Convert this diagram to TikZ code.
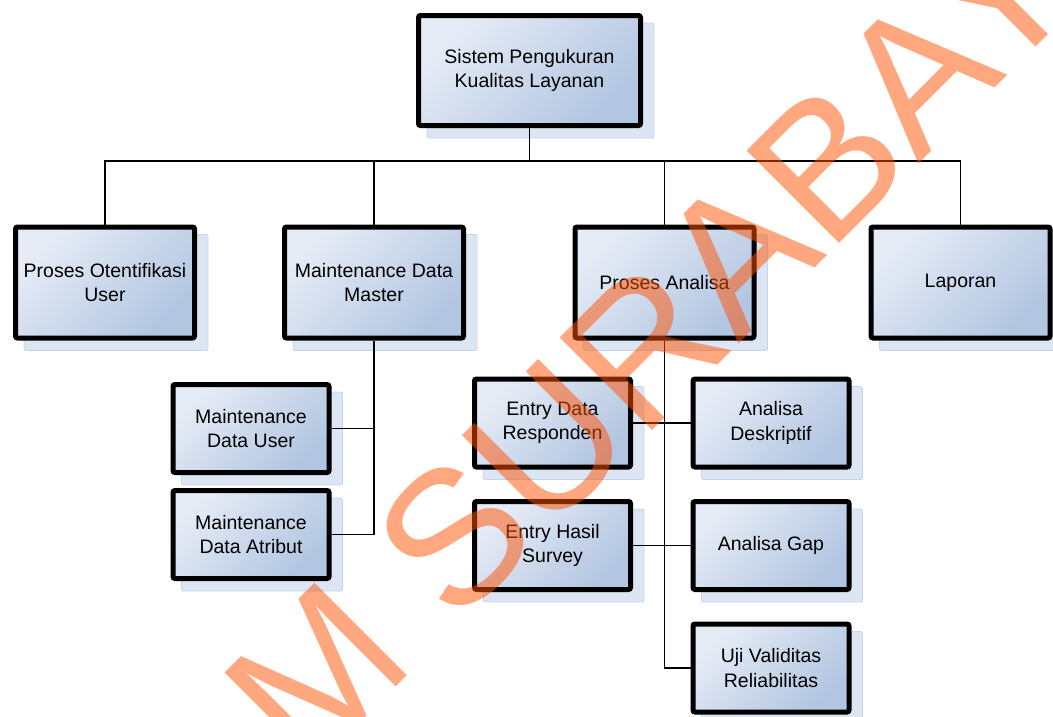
\documentclass[tikz,border=0pt]{standalone}
\usepackage{fontspec}
\setmainfont{Liberation Sans}
\usetikzlibrary{backgrounds}

\definecolor{boxtop}{HTML}{E6ECF6}
\definecolor{boxbot}{HTML}{B2C5E1}
\definecolor{shadefill}{HTML}{DCE5F2}
\definecolor{shadeedge}{HTML}{C6D4EA}
\definecolor{wmorange}{HTML}{FF5000}

\tikzset{
  box/.style={draw=black, line width=5pt, rounded corners=2pt,
    top color=boxtop, bottom color=boxbot, shading angle=45,
    inner sep=0pt, align=center, text=black,
    font=\fontsize{19.5}{24.5}\selectfont},
  bigbox/.style={box, minimum width=222pt, minimum height=110pt},
  midbox/.style={box, minimum width=179pt, minimum height=111pt},
  smallbox/.style={box, minimum width=156pt, minimum height=88pt},
  shadowbox/.style={fill=shadefill, draw=shadeedge, line width=0.8pt, rounded corners=2pt},
  link/.style={draw=black, line width=1.4pt},
  wmtext/.style={text=wmorange, text opacity=0.5, inner sep=0pt,
    font=\fontsize{190}{200}\selectfont}
}

\newcommand{\boxshadow}[1]{%
  \path[shadowbox] ([shift={(11,10)}]#1.north west) rectangle ([shift={(11,10)}]#1.south east);}

\begin{document}
\begin{tikzpicture}[x=1pt, y=-1pt]
  \useasboundingbox (0,0) rectangle (1053,716);

  % boxes of the hierarchy
  \node[bigbox] (root) at (529.5,70.5) {Sistem Pengukuran\\Kualitas Layanan};

  \node[midbox] (otent)   at (105,282.5)   {Proses Otentifikasi\\User};
  \node[midbox] (master)  at (374,282.5)   {Maintenance Data\\Master};
  \node[midbox] (analisa) at (664.5,282.5) {Proses Analisa};
  \node[midbox] (laporan) at (960.5,282.5) {Laporan};

  \node[smallbox] (mduser)    at (251,428.5) {Maintenance\\Data User};
  \node[smallbox] (mdatribut) at (251,534.5) {Maintenance\\Data Atribut};

  \node[smallbox] (responden)  at (552.5,423)   {Entry Data\\Responden};
  \node[smallbox] (deskriptif) at (771,423)     {Analisa\\Deskriptif};
  \node[smallbox] (survey)     at (552.5,545.5) {Entry Hasil\\Survey};
  \node[smallbox] (gap)        at (771,545.5)   {Analisa Gap};
  \node[smallbox] (uji)        at (771,668)     {Uji Validitas\\Reliabilitas};

  \coordinate (busY) at (0,161);

  \begin{scope}[on background layer]
    % drop shadows
    \foreach \n in {root,otent,master,analisa,laporan,mduser,mdatribut,
                    responden,deskriptif,survey,gap,uji}{\boxshadow{\n}}

    % connectors
    \draw[link] (root.south) -- (root.south |- busY);
    \draw[link] (otent.north) |- (laporan.north |- busY) -- (laporan.north);
    \draw[link] (master.north) -- (master.north |- busY);
    \draw[link] (analisa.north) -- (analisa.north |- busY);

    \draw[link] (master.south) |- (mdatribut.east);
    \draw[link] (mduser.east) -- (mduser.east -| master.south);

    \draw[link] (analisa.south) |- (uji.west);
    \draw[link] (responden.east) -- (deskriptif.west);
    \draw[link] (survey.east) -- (gap.west);
  \end{scope}

  % watermark across the chart
  \begin{scope}
    \clip (0,0) rectangle (1053,716);
    \node[wmtext, rotate=45, anchor=base west] (wmark) at (306,777) {M SURABAYA};
  \end{scope}
\end{tikzpicture}
\end{document}
